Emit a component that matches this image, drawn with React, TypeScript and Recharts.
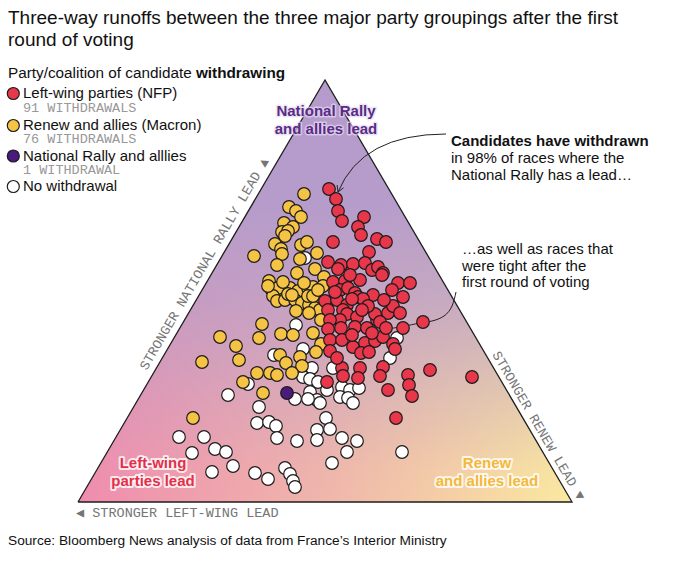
import React from "react";
import { ComposedChart, XAxis, YAxis, Area, Line, Scatter } from "recharts";

if (typeof document !== "undefined") {
  document.body.style.margin = "0";
}

const SANS = "'Liberation Sans', Arial, Helvetica, sans-serif";
const MONO = "'Liberation Mono', 'DejaVu Sans Mono', monospace";

// Triangle frame (positions read along the base / height of the picture)
const CORNERS = [
  { x: 78, y: 502 },
  { x: 325, y: 80 },
  { x: 572, y: 502 },
];
const OUTLINE = [...CORNERS, { x: 78, y: 502 }];

// Races by party/coalition of the candidate withdrawing
const NFP: [number, number][] = [
  [329, 189], [336, 199], [338, 211], [342, 221], [364, 217], [358, 227], [361, 235], [377, 239], [386, 242], [333, 242], [369, 252],
  [328, 262], [341, 265], [338, 269], [353, 264], [365, 263], [372, 270], [378, 267], [383, 273],
  [333, 282], [345, 281], [360, 280], [350, 275], [382, 275], [398, 283], [410, 283], [392, 290], [403, 297],
  [340, 290], [348, 288], [355, 293], [358, 297], [373, 295], [363, 299], [325, 301], [337, 300], [347, 305], [343, 310], [328, 310], [347, 314],
  [357, 317], [340, 320], [330, 320], [355, 327], [328, 329], [341, 328], [367, 328], [377, 320], [375, 314], [388, 313], [393, 306], [400, 313], [380, 322], [403, 328], [423, 322],
  [330, 340], [342, 340], [353, 347], [365, 343], [375, 341], [383, 337], [393, 344], [395, 349], [330, 351], [361, 353], [369, 352],
  [342, 368], [360, 368], [383, 367], [380, 376], [358, 378], [343, 376], [327, 382], [388, 390], [408, 375], [409, 385], [412, 396], [430, 370], [472, 377], [396, 418],
  [335, 292], [352, 299], [368, 306], [384, 300], [362, 310], [352, 335], [372, 333], [386, 328], [337, 358],
];

const RENEW: [number, number][] = [
  [304, 194], [289, 207], [296, 211], [301, 217], [284, 223], [293, 227], [282, 232], [288, 231], [285, 236],
  [275, 244], [281, 249], [282, 254], [301, 245], [307, 242], [254, 256], [277, 265], [300, 259], [317, 253],
  [297, 273], [315, 269], [324, 277], [269, 281], [272, 290], [278, 288],
  [290, 288], [298, 291], [308, 288], [313, 287], [323, 286],
  [273, 296], [277, 301], [285, 300], [295, 300], [302, 303], [309, 305], [318, 300], [308, 296], [288, 294],
  [296, 311], [315, 308], [320, 310], [321, 320], [262, 324],
  [220, 337], [259, 338], [281, 334], [293, 335], [313, 333], [321, 344], [236, 346],
  [239, 360], [202, 362], [280, 355], [286, 363], [300, 357], [302, 366], [316, 352],
  [257, 373], [270, 373], [277, 375], [292, 373], [243, 382], [263, 393], [193, 418],
  [283, 282], [304, 283], [292, 295], [313, 296], [268, 286], [318, 290], [309, 313],
];

const RN: [number, number][] = [[287, 393]];

const NONE: [number, number][] = [
  [305, 258], [296, 325], [303, 349], [274, 355], [248, 384], [228, 395], [259, 407],
  [312, 368], [303, 377], [310, 379], [333, 368], [318, 382], [327, 390], [310, 392], [317, 400], [342, 387], [350, 390], [359, 388], [340, 397], [348, 398], [353, 403], [295, 399], [320, 403], [308, 399],
  [390, 358], [397, 338],
  [257, 423], [269, 422], [276, 426], [326, 418], [317, 430], [330, 429], [317, 440], [342, 438], [357, 441], [347, 452], [332, 463],
  [179, 437], [204, 437], [277, 438], [297, 441], [192, 453], [215, 449], [226, 452], [233, 466], [212, 472], [255, 473], [268, 479], [285, 468], [290, 474], [293, 481], [295, 487], [402, 452],
];

// Leader line for the second annotation
const LEADER: [number, number][] = [
  [456, 292], [452, 306], [444, 316], [432, 321], [420, 323], [400, 327], [372, 331],
];

const toRows = (pts: [number, number][]) => pts.map(([x, y]) => ({ x, y }));

const COLORS = {
  nfp: "#e8364a",
  renew: "#f6c445",
  rn: "#4a1b7c",
  none: "#ffffff",
};

const makeDot = (fill: string) => (props: any) => (
  <circle cx={props.cx} cy={props.cy} r={6.3} fill={fill} stroke="#1c1c1c" strokeWidth={1.2} />
);

const halo = (color: string, width: number, opacity: number) => ({
  stroke: color,
  strokeWidth: width,
  strokeOpacity: opacity,
  strokeLinejoin: "round" as const,
  paintOrder: "stroke" as const,
});

const Overlay = () => (
  <svg
    width={680}
    height={561}
    style={{ position: "absolute", left: 0, top: 0, pointerEvents: "none" }}
    fontFamily={SANS}
  >
    <text x={8} y={24} fontSize={19} fill="#111">
      Three-way runoffs between the three major party groupings after the first
    </text>
    <text x={8} y={46} fontSize={19} fill="#111">round of voting</text>

    <text x={8} y={78} fontSize={15.3} fill="#111">
      Party/coalition of candidate <tspan fontWeight="bold">withdrawing</tspan>
    </text>
    <circle cx={13.3} cy={93.5} r={6} fill={COLORS.nfp} stroke="#1c1c1c" strokeWidth={1.2} />
    <text x={23} y={98} fontSize={15} fill="#111">Left-wing parties (NFP)</text>
    <text x={23} y={112} fontSize={13.5} fill="#999" fontFamily={MONO}>91 WITHDRAWALS</text>
    <circle cx={13.3} cy={125.5} r={6} fill={COLORS.renew} stroke="#1c1c1c" strokeWidth={1.2} />
    <text x={23} y={130} fontSize={15} fill="#111">Renew and allies (Macron)</text>
    <text x={23} y={143} fontSize={13.5} fill="#999" fontFamily={MONO}>76 WITHDRAWALS</text>
    <circle cx={13.3} cy={156} r={6} fill={COLORS.rn} stroke="#1c1c1c" strokeWidth={1.2} />
    <text x={23} y={160.5} fontSize={15} fill="#111">National Rally and alllies</text>
    <text x={23} y={174} fontSize={13.5} fill="#999" fontFamily={MONO}>1 WITHDRAWAL</text>
    <circle cx={13.3} cy={186.5} r={6} fill={COLORS.none} stroke="#1c1c1c" strokeWidth={1.2} />
    <text x={23} y={191} fontSize={15} fill="#111">No withdrawal</text>

    <g fontWeight="bold" fontSize={15} textAnchor="middle">
      <text x={326} y={116} fill="#5a2b87" {...halo("#e6dcef", 3, 0.7)}>National Rally</text>
      <text x={326} y={134} fill="#5a2b87" {...halo("#e6dcef", 3, 0.7)}>and allies lead</text>
      <text x={153} y={468} fill="#e2304a" {...halo("#ffffff", 4, 0.8)}>Left-wing</text>
      <text x={153} y={486} fill="#e2304a" {...halo("#ffffff", 4, 0.8)}>parties lead</text>
      <text x={487} y={468} fill="#f3b93a" {...halo("#ffffff", 4, 0.8)}>Renew</text>
      <text x={487} y={486} fill="#f3b93a" {...halo("#ffffff", 4, 0.8)}>and allies lead</text>
    </g>

    <g fontFamily={MONO} fontSize={13.5} fill="#757575">
      <text x={208} y={266} textAnchor="middle" transform="rotate(-59.7 208 266)">
        STRONGER NATIONAL RALLY LEAD ▲
      </text>
      <text x={535} y={428} textAnchor="middle" transform="rotate(59.7 535 428)">
        STRONGER RENEW LEAD ▼
      </text>
      <text x={76} y={517}>◀ STRONGER LEFT-WING LEAD</text>
    </g>

    <path d="M446,134 Q362,134 338,192" fill="none" stroke="#222" strokeWidth={1} />
    <polyline points="343.5,187.8 338,192 337.1,185.1" fill="none" stroke="#222" strokeWidth={1} />

    <text x={451} y={146} fontSize={15} fill="#111" fontWeight="bold">Candidates have withdrawn</text>
    <text x={451} y={163} fontSize={15} fill="#111">in 98% of races where the</text>
    <text x={451} y={180} fontSize={15} fill="#111">National Rally has a lead…</text>

    <text x={462} y={254} fontSize={15} fill="#111">…as well as races that</text>
    <text x={462} y={271} fontSize={15} fill="#111">were tight after the</text>
    <text x={462} y={287} fontSize={15} fill="#111">first round of voting</text>

    <text x={8} y={545} fontSize={13.7} fill="#111">
      Source: Bloomberg News analysis of data from France’s Interior Ministry
    </text>
  </svg>
);

export default function App() {
  return (
    <div style={{ position: "relative", width: 680, height: 561, background: "#fff", overflow: "hidden" }}>
      <ComposedChart
        width={680}
        height={561}
        margin={{ top: 80, right: 108, bottom: 59, left: 78 }}
      >
        <defs>
          <linearGradient id="baseGrad" x1="0" y1="0" x2="1" y2="0">
            <stop offset="0%" stopColor="#f08cae" />
            <stop offset="50%" stopColor="#f0b6ab" />
            <stop offset="100%" stopColor="#fbe9a0" />
          </linearGradient>
          <linearGradient id="topGrad" x1="0" y1="0" x2="0" y2="1">
            <stop offset="0%" stopColor="#b49bcc" stopOpacity={1} />
            <stop offset="30%" stopColor="#b49bcc" stopOpacity={0.96} />
            <stop offset="52%" stopColor="#b49bcc" stopOpacity={0.72} />
            <stop offset="76%" stopColor="#b49bcc" stopOpacity={0.3} />
            <stop offset="92%" stopColor="#b49bcc" stopOpacity={0.05} />
            <stop offset="100%" stopColor="#b49bcc" stopOpacity={0} />
          </linearGradient>
        </defs>
        <XAxis type="number" dataKey="x" domain={[78, 572]} hide />
        <YAxis type="number" dataKey="y" domain={[80, 502]} reversed hide />
        <Area
          data={CORNERS}
          dataKey="y"
          type="linear"
          baseValue={502}
          fill="url(#baseGrad)"
          fillOpacity={1}
          stroke="none"
          isAnimationActive={false}
        />
        <Area
          data={CORNERS}
          dataKey="y"
          type="linear"
          baseValue={502}
          fill="url(#topGrad)"
          fillOpacity={1}
          stroke="none"
          isAnimationActive={false}
        />
        <Line
          data={OUTLINE}
          dataKey="y"
          type="linear"
          stroke="#1e1e1e"
          strokeWidth={1.3}
          dot={false}
          activeDot={false}
          isAnimationActive={false}
        />
        <Line
          data={toRows(LEADER)}
          dataKey="y"
          type="natural"
          stroke="#222"
          strokeWidth={1}
          dot={false}
          activeDot={false}
          isAnimationActive={false}
        />
        <Scatter data={toRows(NONE)} dataKey="y" shape={makeDot(COLORS.none)} isAnimationActive={false} />
        <Scatter data={toRows(RENEW)} dataKey="y" shape={makeDot(COLORS.renew)} isAnimationActive={false} />
        <Scatter data={toRows(NFP)} dataKey="y" shape={makeDot(COLORS.nfp)} isAnimationActive={false} />
        <Scatter data={toRows(RN)} dataKey="y" shape={makeDot(COLORS.rn)} isAnimationActive={false} />
      </ComposedChart>
      <Overlay />
    </div>
  );
}
